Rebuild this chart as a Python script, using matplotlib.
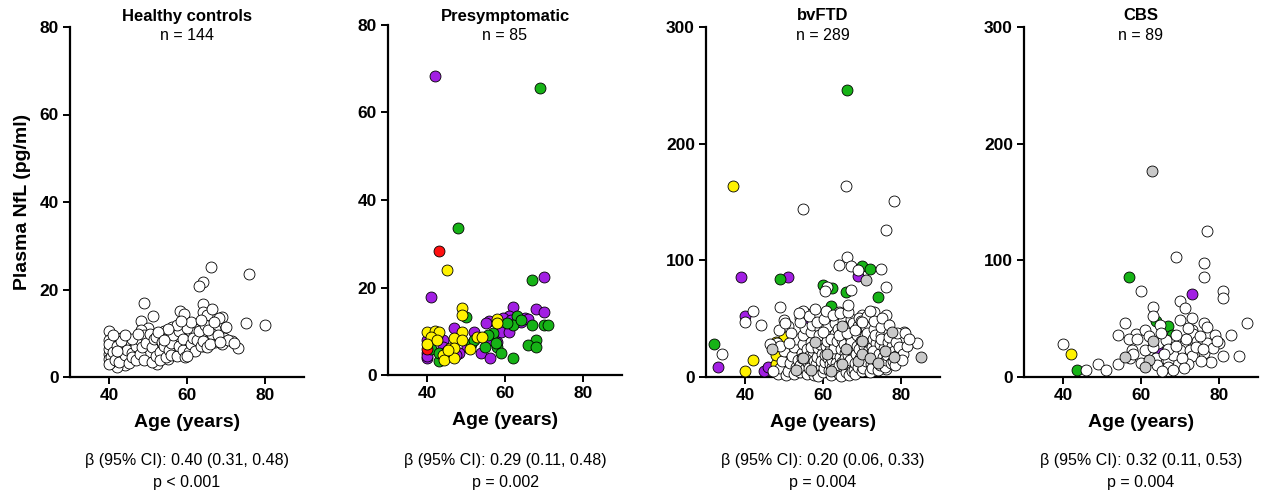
import matplotlib
matplotlib.use("Agg")
import matplotlib.pyplot as plt

plt.rcParams['font.family'] = ['Liberation Sans', 'DejaVu Sans']

# ---- Healthy controls (all white) ----
hc_age = [66.2, 76, 64, 63, 49, 64, 58.2, 59.2, 64, 51.3, 65.2, 48.2, 68.9, 68.2, 75.2, 80,
          40, 40, 43.2, 50, 48.2, 54, 56.2, 62, 67.2, 64, 69.4, 71.5, 73.2, 67.2, 69, 64,
          63, 58.6, 60, 57, 55.2, 52.6, 51.6, 50.5, 52.2, 47.5, 46.6, 44.9, 44, 42, 40.6, 40,
          40, 40, 40.6, 43.2, 43.2, 45.8, 50, 50, 53.4, 54.3, 55.2, 57, 58.6, 60, 60.3, 62,
          64, 65, 66, 66.4, 70.5, 61, 40, 40, 41, 41.5, 42, 42.5, 43, 44, 44.5, 45,
          46, 46, 47, 47, 48, 48, 48.5, 49, 49, 49.5, 50.5, 51, 51, 51.5, 52, 52,
          53, 53, 53.5, 54, 54.5, 55, 55.5, 56, 56, 56.5, 57.5, 58, 58, 59, 59, 59.5,
          60, 60.5, 61, 61.5, 62, 62.5, 63, 63.5, 64, 64.5, 65, 65.5, 66, 67, 68, 68.5,
          70, 72, 57.5, 55, 46, 52.5, 61, 44, 42, 47.5, 63.5, 58.5, 66.5, 54, 41, 60]
hc_nfl = [25.1, 23.6, 21.7, 20.7, 16.9, 16.6, 15.2, 14.3, 14.9, 13.9, 14.1, 12.8, 13.7, 13.6, 12.3, 11.8,
          10.5, 8.4, 9.0, 11.3, 10.7, 10.5, 11.4, 11.0, 11.0, 11.3, 9.0, 8.2, 6.7, 8.0, 7.5, 7.2,
          9.0, 9.9, 9.5, 8.4, 7.6, 6.5, 5.3, 4.6, 2.9, 6.1, 7.5, 4.2, 2.7, 2.3, 3.4, 5.3,
          6.5, 4.2, 4.6, 6.9, 5.3, 3.8, 7.2, 5.7, 6.9, 5.3, 4.2, 6.1, 5.3, 6.9, 8.0, 7.6,
          9.9, 9.1, 8.8, 9.9, 8.5, 10.2, 7.5, 3.0, 5.8, 4.0, 7.0, 3.5, 8.2, 5.0, 6.2, 3.1,
          5.5, 4.5, 7.0, 3.8, 5.2, 8.5, 6.8, 9.5, 4.0, 7.8, 9.8, 3.5, 6.8, 8.8, 4.8, 9.2,
          5.8, 3.8, 8.0, 7.2, 4.6, 9.0, 6.2, 5.0, 7.8, 9.5, 4.8, 7.0, 10.5, 6.2, 8.8, 4.6,
          11.2, 5.8, 7.5, 9.0, 6.0, 8.5, 10.5, 7.0, 8.2, 12.0, 6.8, 10.8, 7.5, 12.5, 9.5, 8.0,
          11.5, 7.8, 12.0, 11.0, 8.8, 10.2, 12.5, 9.5, 6.0, 9.8, 13.0, 12.8, 15.5, 8.5, 9.5, 4.8]

# ---- Presymptomatic ----
pre_purple_age = [42, 70.1, 41.1, 62, 68, 69.9, 65, 61, 59.4, 56, 46.9, 52, 59, 61.1, 44.1, 56.1,
                  50.3, 40, 40, 40, 48.3, 53.9, 56.1, 40, 44.1, 47.5, 55, 64, 66, 42.5, 58, 61.5]
pre_purple_nfl = [68.4, 22.4, 17.8, 15.5, 15.1, 14.3, 13.0, 13.5, 13.0, 12.4, 10.8, 9.9, 9.8, 9.8, 7.9, 8.0,
                  6.5, 8.0, 5.1, 3.8, 5.0, 5.0, 4.0, 4.4, 6.5, 4.5, 12.0, 12.2, 12.8, 9.0, 7.5, 12.5]
pre_green_age = [69, 48, 66.9, 50, 63, 62, 66.9, 70.1, 71, 57, 55.7, 51.2, 68, 66, 68, 54.9,
                 57.9, 41.1, 43, 59, 62.1, 43, 57.6, 45, 60.5, 64, 52]
pre_green_nfl = [65.7, 33.5, 21.8, 13.2, 13.4, 11.5, 11.5, 11.4, 11.5, 9.7, 9.2, 7.1, 8.0, 6.9, 6.3, 6.5,
                 6.3, 5.9, 3.2, 5.0, 3.8, 5.0, 7.3, 5.5, 12.0, 12.5, 8.0]
pre_yellow_age = [45, 49, 49, 57.9, 40, 42, 43, 49, 40.9, 46.9, 49, 52.9, 54, 40, 45.9, 46.9,
                  45.2, 44.1, 44.3, 46.9, 50.9, 45.4, 42.5, 58]
pre_yellow_nfl = [23.9, 15.3, 13.8, 12.8, 9.9, 10.1, 9.9, 9.9, 8.7, 8.5, 8.0, 8.6, 8.8, 7.0, 6.1, 6.1,
                  5.0, 4.6, 3.4, 3.8, 5.9, 5.7, 8.0, 12.0]
pre_red_age = [43, 40]
pre_red_nfl = [28.4, 5.9]

# ---- bvFTD ----
ftd_green_age = [66.2, 70.1, 72.1, 49, 60, 62.2, 66, 74.1, 62.1, 32, 76.1, 63, 75]
ftd_green_nfl = [246, 95, 93, 84, 79, 76, 73, 69, 61, 28, 29, 42, 35]
ftd_yellow_age = [37, 40, 42, 48, 48, 50.1, 53, 57.2, 52, 64, 48]
ftd_yellow_nfl = [164, 5, 15, 11, 19, 34, 24, 34, 14, 15, 30]
ftd_purple_age = [39, 51.1, 69.1, 40, 55.9, 62, 68.8, 71, 44.9, 46, 33, 58.9, 71.5, 56, 65, 73, 60, 67]
ftd_purple_nfl = [86, 86, 87, 52, 47, 51, 40, 39, 5, 9, 9, 34, 24, 20, 35, 22, 10, 28]
ftd_grey_age = [71.1, 77.8, 85.1, 78.3, 46.9, 53, 57, 64.9, 68.9, 70, 70, 72.1, 64.9, 58, 61, 66, 74, 55, 62, 76]
ftd_grey_nfl = [83, 39, 17, 17, 24, 6, 6, 11, 14, 20, 31, 16, 44, 30, 20, 24, 12, 16, 5, 22]
ftd_white_age = [66, 78.1, 54.9, 76.1, 66.2, 64.1, 67.1, 75, 61, 67.1, 76.1, 42, 49, 40, 44.1, 50.1,
                 51, 54, 55.9, 61, 64.1, 70.1, 73.1, 76.1, 80.8, 84.1, 80, 76.1, 34, 48.2, 69, 60.5,
                 48.5, 49, 49.5, 50, 50.5, 49, 48.8, 50.2,
                 51, 51.5, 52, 52.5, 53, 53, 51.8, 52.6, 53.5, 51.2,
                 54, 54.2, 54.5, 54.8, 55, 55.3, 54.6, 55.5, 55.8, 54, 55,
                 56, 56.2, 56.5, 56.8, 57, 57.2, 56.4, 57.5, 57.8, 56.9, 56.3, 57.6,
                 58, 58.2, 58.5, 58.8, 59, 59.2, 58.4, 59.5, 59.8, 58.6, 59.3, 58.9, 59.6,
                 60, 60.2, 60.4, 60.6, 60.8, 61, 61.2, 60.3, 61.5, 61.7, 60.9, 61.4, 60.1, 61.8, 60.7,
                 62, 62.2, 62.4, 62.6, 62.8, 63, 63.2, 62.5, 63.5, 63.7, 62.9, 63.3, 62.1, 63.8, 62.7, 63.6,
                 64, 64.2, 64.4, 64.6, 64.8, 65, 65.2, 64.3, 65.5, 65.7, 64.9, 65.3, 64.1, 65.8, 64.7, 65.6,
                 66, 66.2, 66.4, 66.6, 66.8, 67, 67.2, 66.3, 67.5, 67.7, 66.9, 67.3, 66.1, 67.8, 66.7, 67.4,
                 68, 68.2, 68.4, 68.6, 68.8, 69, 69.2, 68.3, 69.5, 69.7, 68.9, 69.3, 68.1, 69.8,
                 70, 70.2, 70.4, 70.6, 70.8, 71, 71.2, 70.3, 71.5, 71.7, 70.9, 71.3, 70.1,
                 72, 72.2, 72.4, 72.6, 72.8, 73, 73.2, 72.5, 73.5, 73.7, 72.9, 73.3, 72.1,
                 74, 74.2, 74.4, 74.6, 74.8, 75, 75.2, 74.5, 75.5, 75.7, 74.9,
                 76, 76.2, 76.4, 76.6, 76.8, 77, 76.5, 77.5, 77.7, 76.9,
                 78, 78.3, 78.6, 79, 78.8, 79.4, 78.5,
                 80.5, 81, 81.5, 82, 80.2,
                 46.5, 47.2, 53.8, 58, 66.5]
ftd_white_nfl = [164, 151, 144, 126, 103, 96, 95, 93, 77, 75, 77, 57, 60, 47, 45, 49,
                 44, 51, 54, 54, 56, 53, 56, 53, 39, 29, 30, 7, 20, 29, 92, 74,
                 3, 8, 14, 22, 2, 27, 40, 46,
                 5, 12, 18, 26, 9, 33, 38, 3, 15, 29,
                 4, 10, 21, 28, 36, 42, 16, 7, 24, 47, 57,
                 3, 12, 18, 30, 39, 45, 8, 22, 14, 26, 52, 2,
                 5, 11, 17, 25, 32, 41, 47, 9, 20, 1, 28, 36, 14,
                 4, 8, 13, 19, 27, 35, 44, 50, 6, 23, 31, 16, 39, 11, 57,
                 2, 9, 15, 21, 29, 37, 46, 53, 5, 18, 25, 12, 33, 41, 7, 31,
                 3, 10, 17, 24, 32, 39, 48, 55, 7, 21, 13, 28, 36, 44, 1, 16,
                 4, 11, 19, 26, 34, 42, 50, 56, 8, 23, 15, 30, 38, 46, 2, 5,
                 6, 12, 20, 27, 36, 44, 51, 3, 16, 31, 9, 24, 40, 48,
                 5, 12, 18, 27, 35, 43, 52, 8, 22, 30, 14, 38, 47,
                 4, 11, 19, 26, 33, 41, 48, 8, 15, 29, 22, 36, 57,
                 6, 13, 20, 28, 36, 43, 51, 10, 17, 25, 33,
                 9, 15, 23, 30, 38, 45, 19, 12, 27, 34,
                 14, 22, 30, 38, 18, 26, 10,
                 20, 38, 27, 33, 15,
                 28, 5, 55, 58, 62]

# ---- CBS ----
cbs_grey_age = [62.9, 63, 56, 62, 61]
cbs_grey_nfl = [177, 31, 17, 15, 9]
cbs_green_age = [56.9, 63.8, 67, 68, 43.7]
cbs_green_nfl = [86, 48, 44, 36, 6]
cbs_yellow_age = [42]
cbs_yellow_nfl = [20]
cbs_purple_age = [73.1, 64.4]
cbs_purple_nfl = [71, 22]
cbs_white_age = [77, 69, 76.1, 76.1, 60, 81.1, 81.1, 69.9, 71.2, 63, 63, 73.1, 87.2, 70, 64.8, 56,
                 76.1, 77, 54.1, 58.8, 61, 73.1, 73.3, 79, 83, 56.9, 59, 64.4, 67.9, 71.2, 74.4, 77,
                 80, 40, 57.8, 61, 70, 72.6, 76.1, 57.1, 63.8, 67, 68.2, 73.1, 78, 81.1, 85.2, 48.9,
                 54.1, 67, 72, 68.2, 45.9, 50.9, 63, 66.5,
                 65, 67, 69, 70.5, 71.5, 72, 74, 75, 75.5, 78.5, 79.5, 66, 62, 58, 60, 64, 65.5, 71, 76, 69]
cbs_white_nfl = [125, 103, 98, 86, 74, 74, 68, 65, 59, 60, 52, 51, 46, 49, 45, 46,
                 46, 43, 36, 37, 40, 40, 37, 36, 36, 33, 33, 29, 29, 29, 31, 29,
                 29, 28, 23, 23, 23, 23, 21, 16, 16, 14, 19, 18, 13, 18, 18, 11,
                 11, 9, 11, 6, 6, 6, 26, 32,
                 38, 24, 27, 16, 33, 42, 26, 35, 14, 25, 31, 20, 35, 20, 12, 10, 5, 8, 24, 36]

titles = ['Healthy controls', 'Presymptomatic', 'bvFTD', 'CBS']
n_labels = ['n = 144', 'n = 85', 'n = 289', 'n = 89']
beta_labels = ['β (95% CI): 0.40 (0.31, 0.48)', 'β (95% CI): 0.29 (0.11, 0.48)',
               'β (95% CI): 0.20 (0.06, 0.33)', 'β (95% CI): 0.32 (0.11, 0.53)']
p_labels = ['p < 0.001', 'p = 0.002', 'p = 0.004', 'p = 0.004']

C_WHITE = 'white'
C_PURPLE = '#A21FE3'
C_GREEN = '#16B316'
C_YELLOW = '#FFF200'
C_RED = '#FF1010'
C_GREY = '#C9C9C9'

fig = plt.figure(figsize=(12.67, 4.96), dpi=100)

lefts = [70, 388, 706, 1024]
bottoms = [377, 375, 377, 377]
axes = []
for left, bot in zip(lefts, bottoms):
    ax = fig.add_axes([left / 1267, (496 - bot) / 496, 234 / 1267, 350 / 496])
    axes.append(ax)


def dots(ax, x, y, color):
    ax.scatter(x, y, s=62, c=color, edgecolors='black', linewidths=0.6, zorder=3, clip_on=False)


dots(axes[0], hc_age, hc_nfl, C_WHITE)

dots(axes[1], pre_purple_age, pre_purple_nfl, C_PURPLE)
dots(axes[1], pre_green_age, pre_green_nfl, C_GREEN)
dots(axes[1], pre_red_age, pre_red_nfl, C_RED)
dots(axes[1], pre_yellow_age, pre_yellow_nfl, C_YELLOW)

dots(axes[2], ftd_purple_age, ftd_purple_nfl, C_PURPLE)
dots(axes[2], ftd_green_age, ftd_green_nfl, C_GREEN)
dots(axes[2], ftd_yellow_age, ftd_yellow_nfl, C_YELLOW)
dots(axes[2], ftd_white_age, ftd_white_nfl, C_WHITE)
dots(axes[2], ftd_grey_age, ftd_grey_nfl, C_GREY)

dots(axes[3], cbs_purple_age, cbs_purple_nfl, C_PURPLE)
dots(axes[3], cbs_green_age, cbs_green_nfl, C_GREEN)
dots(axes[3], cbs_yellow_age, cbs_yellow_nfl, C_YELLOW)
dots(axes[3], cbs_white_age, cbs_white_nfl, C_WHITE)
dots(axes[3], cbs_grey_age, cbs_grey_nfl, C_GREY)

for i, ax in enumerate(axes):
    ax.set_xlim(30, 90)
    if i < 2:
        ax.set_ylim(0, 80)
        ax.set_yticks([0, 20, 40, 60, 80])
    else:
        ax.set_ylim(0, 300)
        ax.set_yticks([0, 100, 200, 300])
    ax.set_xticks([40, 60, 80])
    ax.spines['top'].set_visible(False)
    ax.spines['right'].set_visible(False)
    ax.spines['left'].set_linewidth(1.6)
    ax.spines['bottom'].set_linewidth(1.6)
    ax.tick_params(direction='out', length=5, width=1.4, labelsize=12.5, pad=3)
    for lab in ax.get_xticklabels() + ax.get_yticklabels():
        lab.set_fontweight('bold')
    ax.set_xlabel('Age (years)', fontsize=14, fontweight='bold', labelpad=8)

    cx = ax.get_position().x0 + ax.get_position().width / 2
    fig.text(cx, 1 - 16 / 496, titles[i], ha='center', va='center', fontsize=12, fontweight='bold')
    fig.text(cx, 1 - 36 / 496, n_labels[i], ha='center', va='center', fontsize=11.5)
    fig.text(cx, 1 - 461 / 496, beta_labels[i], ha='center', va='center', fontsize=11.5)
    fig.text(cx, 1 - 482 / 496, p_labels[i], ha='center', va='center', fontsize=11.5)

axes[0].set_ylabel('Plasma NfL (pg/ml)', fontsize=14, fontweight='bold', labelpad=6)

fig.savefig('out.png', dpi=100)
